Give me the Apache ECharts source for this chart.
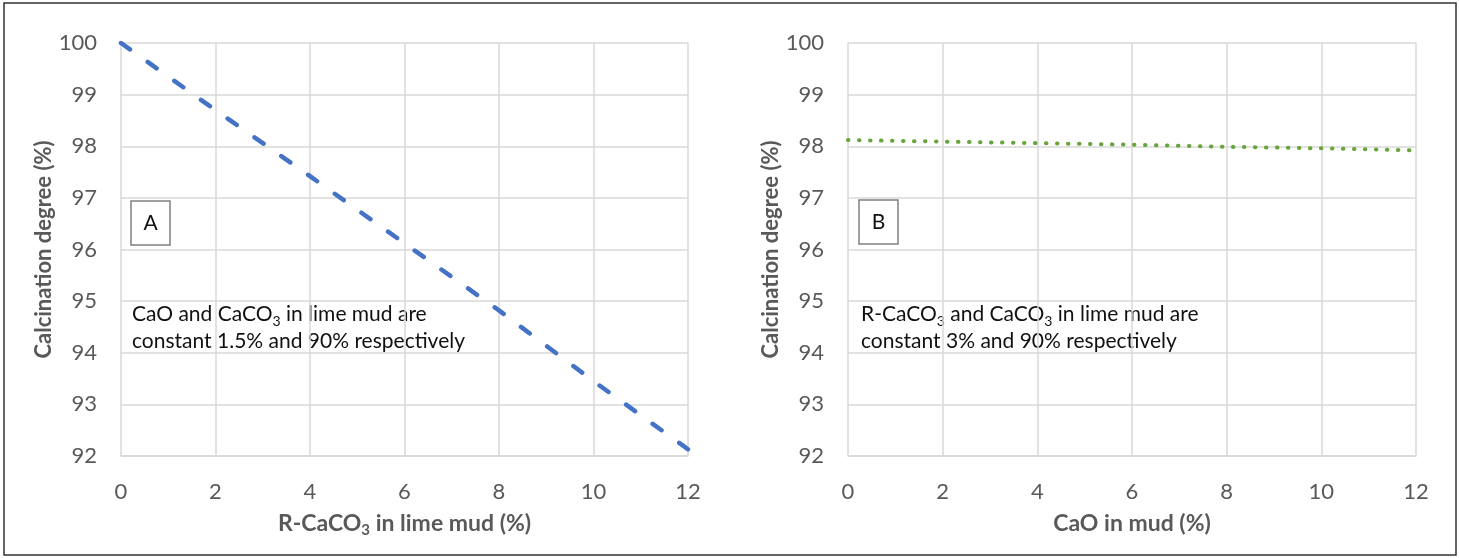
<!DOCTYPE html>
<html>
<head>
<meta charset="utf-8">
<script src="https://cdn.jsdelivr.net/npm/echarts@6/dist/echarts.min.js"></script>
<style>
html,body{margin:0;padding:0;background:#fff;}
#chart{width:1459px;height:558px;}
</style>
</head>
<body>
<div id="chart"></div>
<script>
// Panel A: R-CaCO3 in lime mud (%) vs calcination degree (%)
const xA = [0, 2, 4, 6, 8, 10, 12];
const yA = [100, 98.70, 97.42, 96.12, 94.82, 93.45, 92.13];
// Panel B: CaO in mud (%) vs calcination degree (%)
const xB = [0, 2, 4, 6, 8, 10, 12];
const yB = [98.12, 98.09, 98.06, 98.03, 97.99, 97.96, 97.92];
// Axis ranges / ticks
const xMin = 0, xMax = 12, xStep = 2;
const yMin = 92, yMax = 100, yStep = 1;

const FONT = 'Lato';
const GRID_C = '#d9d9d9';
const TXT_C = '#595959';

function pairs(xs, ys) { return xs.map((x, i) => [x, ys[i]]); }

function xAxisCfg(gridIndex, name) {
  return {
    type: 'value', gridIndex, min: xMin, max: xMax, interval: xStep,
    name, nameLocation: 'middle', nameGap: 54,
    nameTextStyle: {
      fontFamily: FONT, fontSize: 23, fontWeight: 'bold', color: TXT_C, lineHeight: 28,
      rich: { sub: { fontFamily: FONT, fontSize: 15, fontWeight: 'bold', color: TXT_C, verticalAlign: 'bottom', lineHeight: 15 } }
    },
    axisLine: { show: true, lineStyle: { color: GRID_C, width: 1.5 } },
    axisTick: { show: false },
    axisLabel: { fontFamily: FONT, fontSize: 22, color: TXT_C, margin: 25 },
    splitLine: { show: true, lineStyle: { color: GRID_C, width: 1.5 } }
  };
}
function yAxisCfg(gridIndex) {
  return {
    type: 'value', gridIndex, min: yMin, max: yMax, interval: yStep,
    name: 'Calcination degree (%)', nameLocation: 'middle', nameGap: 65,
    nameTextStyle: { fontFamily: FONT, fontSize: 22, fontWeight: 'bold', color: TXT_C },
    axisLine: { show: false },
    axisTick: { show: false },
    axisLabel: { fontFamily: FONT, fontSize: 22, color: TXT_C, margin: 24 },
    splitLine: { show: true, lineStyle: { color: GRID_C, width: 1.5 } }
  };
}

function noteText(x, y, lines) {
  return {
    type: 'text', left: x, top: y, silent: true,
    style: {
      text: lines.join('\n'),
      fontFamily: FONT, fontSize: 21, fill: '#111', lineHeight: 27,
      rich: {
        n: { fontFamily: FONT, fontSize: 21, fill: '#111', lineHeight: 27 },
        sub: { fontFamily: FONT, fontSize: 14, fill: '#111', verticalAlign: 'bottom', lineHeight: 15 }
      }
    }
  };
}
function labelBox(x, y, letter) {
  return [
    { type: 'rect', shape: { x: x, y: y, width: 39, height: 44 }, style: { fill: '#fff', stroke: '#808080', lineWidth: 1.5 }, silent: true, z: 10 },
    { type: 'text', x: x + 19.5, y: y + 22, silent: true, z: 11,
      style: { text: letter, fontFamily: FONT, fontSize: 21, fill: '#111', align: 'center', verticalAlign: 'middle' } }
  ];
}

const chart = echarts.init(document.getElementById('chart'), null, { renderer: 'canvas' });
chart.setOption({
  backgroundColor: '#fff',
  animation: false,
  grid: [
    { left: 121, right: 1459 - 688, top: 43, bottom: 558 - 456 },
    { left: 848, right: 1459 - 1416, top: 43, bottom: 558 - 456 }
  ],
  xAxis: [
    xAxisCfg(0, 'R-CaCO{sub|3} in lime mud (%)'),
    xAxisCfg(1, 'CaO in mud (%)')
  ],
  yAxis: [yAxisCfg(0), yAxisCfg(1)],
  series: [
    {
      type: 'line', xAxisIndex: 0, yAxisIndex: 0, data: pairs(xA, yA),
      symbol: 'none', smooth: false,
      lineStyle: { color: '#4472C4', width: 4.5, type: [11, 21.7], cap: 'round' },
      z: 5
    },
    {
      type: 'line', xAxisIndex: 1, yAxisIndex: 1, data: pairs(xB, yB),
      symbol: 'none', smooth: false,
      lineStyle: { color: '#6aa43c', width: 4, type: [0.5, 10.5], cap: 'round' },
      z: 5
    }
  ],
  graphic: [
    { type: 'rect', shape: { x: 4, y: 3, width: 1452, height: 552 }, style: { fill: 'none', stroke: '#333', lineWidth: 1.5 }, silent: true, z: 20 },
    ...labelBox(131, 201, 'A'),
    ...labelBox(859, 200, 'B'),
    noteText(132, 301, ['{n|CaO and CaCO}{sub|3}{n| in lime mud are}', '{n|constant 1.5% and 90% respectively}']),
    noteText(861, 301, ['{n|R-CaCO}{sub|3}{n| and CaCO}{sub|3}{n| in lime mud are}', '{n|constant 3% and 90% respectively}'])
  ]
});
</script>
</body>
</html>
